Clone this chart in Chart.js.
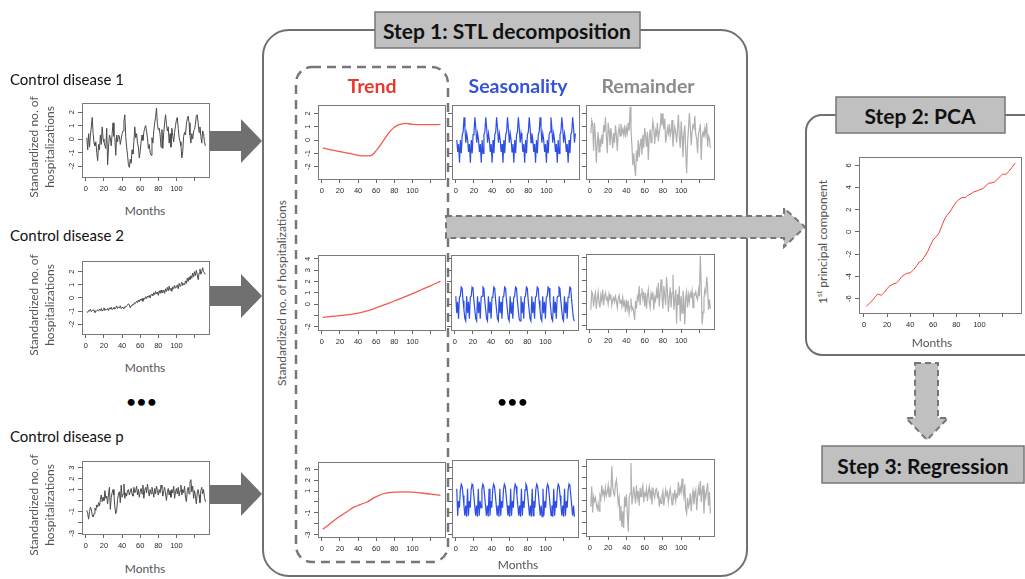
<!DOCTYPE html>
<html><head><meta charset="utf-8">
<script src="https://cdn.jsdelivr.net/npm/chart.js@4.4.0/dist/chart.umd.min.js"></script>
<style>
html,body{margin:0;padding:0;background:#fff;}
#stage{position:relative;width:1025px;height:579px;overflow:hidden;font-family:Lato,"Open Sans",sans-serif;}
#stage svg{position:absolute;left:0;top:0;z-index:0;}
canvas{position:absolute;z-index:1;}
.t{position:absolute;z-index:2;white-space:nowrap;}
.rot{transform:translate(-50%,-50%) rotate(-90deg);text-align:center;color:#555;font-size:12px;line-height:16px;}
.ctr{transform:translate(-50%,-50%);}
.step{font-weight:bold;font-size:21px;color:#111;}
.head{font-weight:bold;font-size:19.5px;}
.months{color:#555;font-size:12px;}
.cd{font-size:15px;color:#111;}
</style></head><body>
<div id="stage">
<svg width="1025" height="579">
  <rect x="263" y="30" width="484" height="546" rx="26" fill="none" stroke="#707070" stroke-width="2"/>
  <rect x="296" y="67" width="152" height="495" rx="16" fill="none" stroke="#777" stroke-width="2.5" stroke-dasharray="9 6"/>
  <rect x="806" y="115" width="260" height="240" rx="16" fill="none" stroke="#707070" stroke-width="2"/>
  <polygon points="210,131 241,131 241,119 262,141 241,163 241,151 210,151" fill="#707070"/>
  <polygon points="210,286 241,286 241,274 262,296 241,318 241,306 210,306" fill="#707070"/>
  <polygon points="210,485 241,485 241,472 262,494 241,516 241,504 210,504" fill="#707070"/>
  <polygon points="446,216 784,216 784,208 805,227 784,247 784,238 446,238" fill="#c0c0c0" stroke="#777" stroke-width="2" stroke-dasharray="6 4"/>
  <polygon points="915,363 938,363 938,418 948,418 927,440 906,418 915,418" fill="#c0c0c0" stroke="#777" stroke-width="2" stroke-dasharray="6 4"/>
  <rect x="375" y="12" width="265" height="36" fill="#c0c0c0" stroke="#777" stroke-width="1.5"/>
  <rect x="836" y="97" width="169" height="36" fill="#c0c0c0" stroke="#777" stroke-width="1.5"/>
  <rect x="822" y="446" width="202" height="37" fill="#c0c0c0" stroke="#777" stroke-width="1.5"/>
</svg>
<div class="t ctr step" style="left:507px;top:30px;">Step 1: STL decomposition</div>
<div class="t ctr step" style="left:920px;top:115px;">Step 2: PCA</div>
<div class="t ctr step" style="left:923px;top:465px;">Step 3: Regression</div>
<div class="t ctr head" style="left:372px;top:85px;color:#e8392e;">Trend</div>
<div class="t ctr head" style="left:518px;top:85px;color:#3653d8;">Seasonality</div>
<div class="t ctr head" style="left:648px;top:85px;color:#8a8a8a;">Remainder</div>
<div class="t cd" style="left:10px;top:70px;">Control disease 1</div>
<div class="t cd" style="left:10px;top:226px;">Control disease 2</div>
<div class="t cd" style="left:10px;top:427px;">Control disease p</div>
<div class="t rot" style="left:42px;top:147px;">Standardized no. of<br>hospitalizations</div>
<div class="t rot" style="left:42px;top:305px;">Standardized no. of<br>hospitalizations</div>
<div class="t rot" style="left:42px;top:505px;">Standardized no. of<br>hospitalizations</div>
<div class="t rot" style="left:282px;top:293px;">Standardized no. of hospitalizations</div>
<div class="t rot" style="left:821px;top:242px;">1<sup style="font-size:8px">st</sup> principal component</div>
<div class="t ctr months" style="left:145px;top:210px;">Months</div>
<div class="t ctr months" style="left:145px;top:367px;">Months</div>
<div class="t ctr months" style="left:145px;top:568px;">Months</div>
<div class="t ctr months" style="left:518px;top:564px;">Months</div>
<div class="t ctr months" style="left:932px;top:342px;">Months</div>
<div class="t ctr" style="left:142px;top:400px;font-size:16px;font-weight:bold;letter-spacing:1px;">•••</div>
<div class="t ctr" style="left:513px;top:400px;font-size:16px;font-weight:bold;letter-spacing:1px;">•••</div>
</div>
<script>
// ---------- data ----------
const months = [1,2,3,4,5,6,7,8,9,10,11,12,13,14,15,16,17,18,19,20,21,22,23,24,25,26,27,28,29,30,31,32,33,34,35,36,37,38,39,40,41,42,43,44,45,46,47,48,49,50,51,52,53,54,55,56,57,58,59,60,61,62,63,64,65,66,67,68,69,70,71,72,73,74,75,76,77,78,79,80,81,82,83,84,85,86,87,88,89,90,91,92,93,94,95,96,97,98,99,100,101,102,103,104,105,106,107,108,109,110,111,112,113,114,115,116,117,118,119,120,121,122,123,124,125,126,127,128,129,130,131,132];

const c1Values = [0.1,-0.8,0.4,-0.6,0.3,0.9,1.6,0.4,-0.3,-0.5,-0.2,-1.0,
 -1.6,-0.4,-0.8,0.3,-0.4,0.9,0.0,-0.2,-0.5,-0.7,0.8,-1.9,
 -0.6,0.3,0.1,-0.5,0.4,1.2,0.2,0.1,-1.2,0.3,-0.2,0.3,
 0.2,-0.4,0.0,0.4,0.6,1.3,1.8,0.2,-0.6,-1.2,-1.9,-2.1,
 -1.5,-1.8,-0.8,-1.1,-0.2,0.9,0.1,0.4,-0.3,-0.6,-1.4,-0.9,
 -0.2,0.3,-0.1,0.5,0.8,1.0,0.6,0.1,-0.7,-0.4,-1.0,-1.2,
 0.1,-0.3,0.6,1.2,1.6,2.3,1.1,0.7,0.8,0.3,-0.6,0.7,
 -0.7,0.5,1.2,1.8,1.1,0.6,0.9,-0.3,0.4,-0.6,0.8,0.2,
 -0.2,0.5,1.0,1.4,1.6,0.8,0.1,-0.2,-0.5,-1.4,-0.9,0.2,
 0.5,0.3,1.1,1.5,1.7,1.2,0.3,-0.3,0.4,0.0,0.6,0.7,
 1.1,1.7,1.8,1.2,0.5,0.9,0.2,-0.3,0.6,0.4,-0.2,-0.5];

const c2Values = [-1.05,-1.1,-0.95,-1.0,-0.85,-1.05,-1.0,-0.9,-0.95,-1.1,-1.05,-0.95,
 -0.9,-1.0,-0.85,-0.95,-0.8,-1.0,-0.9,-0.75,-0.95,-0.85,-0.9,-0.8,
 -0.95,-0.75,-0.85,-0.7,-0.9,-0.8,-0.7,-0.85,-0.75,-0.6,-0.8,-0.7,
 -0.75,-0.6,-0.8,-0.7,-0.75,-0.8,-0.65,-0.7,-0.6,-0.55,-0.45,-0.5,
 -0.75,-0.6,-0.55,-0.45,-0.5,-0.35,-0.4,-0.25,-0.35,-0.15,-0.3,-0.1,
 -0.2,-0.05,-0.25,0.0,-0.1,0.1,-0.05,0.15,0.05,0.2,0.0,0.25,
 0.3,0.15,0.4,0.25,0.5,0.3,0.45,0.2,0.55,0.35,0.6,0.4,
 0.4,0.6,0.35,0.7,0.5,0.8,0.55,0.9,0.6,0.75,0.5,0.85,
 0.7,0.95,0.75,0.8,1.0,0.7,1.1,0.9,1.05,1.2,0.95,1.1,
 1.0,1.3,1.1,1.5,1.25,1.6,1.4,1.7,1.5,1.9,1.6,2.0,
 1.7,2.1,1.8,1.4,1.9,2.2,1.8,2.0,2.3,2.0,1.9,1.8];

const cpValues = [-0.9,-1.2,-1.7,-1.0,-0.6,-0.8,-1.3,-1.5,-1.2,-0.7,-0.9,-0.4,
 -0.6,-0.2,-0.5,0.1,0.5,-0.1,0.3,0.0,0.9,0.2,0.4,-0.3,
 0.6,1.2,-0.8,0.3,0.7,1.0,0.5,-0.6,-1.2,-0.9,0.1,0.6,
 0.8,-0.2,1.4,0.3,0.6,1.5,0.2,0.7,0.4,0.9,1.0,0.5,
 0.8,1.1,0.6,0.4,1.2,0.7,0.9,1.3,0.5,1.0,0.3,0.8,
 1.1,0.6,1.4,0.2,0.9,1.2,0.7,1.5,0.9,0.4,1.0,0.6,
 1.2,0.8,0.3,1.1,0.6,1.3,0.9,0.5,1.0,0.7,1.4,1.1,
 0.4,0.9,1.2,0.6,0.0,0.8,1.1,0.5,0.9,0.3,1.0,0.7,
 1.3,0.2,0.8,1.1,0.6,1.2,0.4,0.9,1.4,0.5,1.0,0.7,
 1.3,0.3,-0.1,0.9,1.2,0.6,1.7,1.9,0.8,1.3,0.2,0.9,
 0.4,-0.3,0.7,1.0,0.5,-0.2,0.9,1.2,0.6,1.0,0.3,-0.1];

const trend1Months = [1,10,20,30,40,46,52,56,60,64,68,72,76,80,84,88,92,96,100,110,120,131];
const trend1Values = [-0.6,-0.75,-0.88,-1.0,-1.15,-1.2,-1.2,-1.1,-0.8,-0.45,-0.05,0.35,0.7,0.95,1.12,1.2,1.25,1.22,1.18,1.15,1.15,1.17];
const trend2Months = [1,10,20,30,40,50,60,70,80,90,100,110,120,131];
const trend2Values = [-1.18,-1.1,-1.02,-0.93,-0.8,-0.6,-0.33,-0.03,0.27,0.6,0.92,1.27,1.62,2.03];
const trendpMonths = [1,8,15,22,30,36,42,50,56,62,68,74,80,90,100,110,120,131];
const trendpValues = [-2.5,-2.05,-1.6,-1.2,-0.75,-0.45,-0.25,0.0,0.3,0.55,0.75,0.85,0.9,0.92,0.9,0.82,0.72,0.6];

const seas1Values = [0.0,-0.9,-0.3,-1.7,0.0,-1.0,0.4,0.6,1.7,0.9,-0.2,0.5,
 0.0,-0.9,-0.3,-1.7,0.0,-1.0,0.4,0.6,1.7,0.9,-0.2,0.5,
 0.0,-0.9,-0.3,-1.7,0.0,-1.0,0.4,0.6,1.7,0.9,-0.2,0.5,
 0.0,-0.9,-0.3,-1.7,0.0,-1.0,0.4,0.6,1.7,0.9,-0.2,0.5,
 0.0,-0.9,-0.3,-1.7,0.0,-1.0,0.4,0.6,1.7,0.9,-0.2,0.5,
 0.0,-0.9,-0.3,-1.7,0.0,-1.0,0.4,0.6,1.7,0.9,-0.2,0.5,
 0.0,-0.9,-0.3,-1.7,0.0,-1.0,0.4,0.6,1.7,0.9,-0.2,0.5,
 0.0,-0.9,-0.3,-1.7,0.0,-1.0,0.4,0.6,1.7,0.9,-0.2,0.5,
 0.0,-0.9,-0.3,-1.7,0.0,-1.0,0.4,0.6,1.7,0.9,-0.2,0.5,
 0.0,-0.9,-0.3,-1.7,0.0,-1.0,0.4,0.6,1.7,0.9,-0.2,0.5,
 0.0,-0.9,-0.3,-1.7,0.0,-1.0,0.4,0.6,1.7,0.9,-0.2,0.5];

const seas2Values = [0.7,-0.8,0.2,-1.3,0.6,0.7,1.5,1.4,0.3,-0.5,-1.3,-1.5,
 0.7,-0.8,0.2,-1.3,0.6,0.7,1.5,1.4,0.3,-0.5,-1.3,-1.5,
 0.7,-0.8,0.2,-1.3,0.6,0.7,1.5,1.4,0.3,-0.5,-1.3,-1.5,
 0.7,-0.8,0.2,-1.3,0.6,0.7,1.5,1.4,0.3,-0.5,-1.3,-1.5,
 0.7,-0.8,0.2,-1.3,0.6,0.7,1.5,1.4,0.3,-0.5,-1.3,-1.5,
 0.7,-0.8,0.2,-1.3,0.6,0.7,1.5,1.4,0.3,-0.5,-1.3,-1.5,
 0.7,-0.8,0.2,-1.3,0.6,0.7,1.5,1.4,0.3,-0.5,-1.3,-1.5,
 0.7,-0.8,0.2,-1.3,0.6,0.7,1.5,1.4,0.3,-0.5,-1.3,-1.5,
 0.7,-0.8,0.2,-1.3,0.6,0.7,1.5,1.4,0.3,-0.5,-1.3,-1.5,
 0.7,-0.8,0.2,-1.3,0.6,0.7,1.5,1.4,0.3,-0.5,-1.3,-1.5,
 0.7,-0.8,0.2,-1.3,0.6,0.7,1.5,1.4,0.3,-0.5,-1.3,-1.5];

const seaspValues = [1.1,-1.3,0.0,-0.6,1.0,1.5,1.3,0.5,-0.4,-1.3,-0.4,-1.4,
 1.1,-1.3,0.0,-0.6,1.0,1.5,1.3,0.5,-0.4,-1.3,-0.4,-1.4,
 1.1,-1.3,0.0,-0.6,1.0,1.5,1.3,0.5,-0.4,-1.3,-0.4,-1.4,
 1.1,-1.3,0.0,-0.6,1.0,1.5,1.3,0.5,-0.4,-1.3,-0.4,-1.4,
 1.1,-1.3,0.0,-0.6,1.0,1.5,1.3,0.5,-0.4,-1.3,-0.4,-1.4,
 1.1,-1.3,0.0,-0.6,1.0,1.5,1.3,0.5,-0.4,-1.3,-0.4,-1.4,
 1.1,-1.3,0.0,-0.6,1.0,1.5,1.3,0.5,-0.4,-1.3,-0.4,-1.4,
 1.1,-1.3,0.0,-0.6,1.0,1.5,1.3,0.5,-0.4,-1.3,-0.4,-1.4,
 1.1,-1.3,0.0,-0.6,1.0,1.5,1.3,0.5,-0.4,-1.3,-0.4,-1.4,
 1.1,-1.3,0.0,-0.6,1.0,1.5,1.3,0.5,-0.4,-1.3,-0.4,-1.4,
 1.1,-1.3,0.0,-0.6,1.0,1.5,1.3,0.5,-0.4,-1.3,-0.4,-1.4];

const rem1Values = [0.5,1.5,1.2,-0.8,1.3,0.2,-1.7,-0.2,0.6,-0.9,0.1,-0.5,
 0.4,-0.3,1.1,0.6,1.7,0.3,-1.0,1.3,0.7,-0.4,0.9,0.2,
 -0.6,0.5,-0.2,1.1,0.4,-0.8,0.6,1.0,0.3,1.2,0.5,0.8,
 0.4,1.1,0.2,0.9,0.5,1.3,0.7,2.5,0.9,-0.4,-1.9,-1.0,
 -2.0,-2.7,-0.8,-1.6,0.0,-1.3,-0.4,0.1,-1.1,0.4,-0.6,0.9,
 0.3,-0.5,0.6,-1.5,0.2,0.8,-0.2,0.5,1.4,0.9,-0.3,0.7,
 0.4,1.3,-0.1,0.6,0.9,2.0,1.1,2.0,0.8,1.6,-0.2,0.3,
 0.9,0.5,1.2,0.3,0.7,1.5,-0.5,0.4,1.0,0.6,-0.2,0.8,
 1.9,0.2,-0.6,1.4,0.3,-1.3,0.5,1.1,-0.9,-2.5,-0.3,0.8,
 2.0,1.0,-0.4,0.6,1.1,0.9,1.8,0.4,0.1,-1.0,0.5,0.7,
 1.2,-1.5,0.3,0.6,0.2,0.9,0.4,1.3,-0.5,0.3,0.1,-0.6];

const rem2Values = [-0.6,1.0,0.8,-0.3,0.5,0.9,-0.5,0.3,1.0,0.1,-0.4,0.7,
 0.2,1.2,-0.2,0.6,0.9,0.3,0.5,-0.1,0.8,0.4,0.6,-0.2,
 0.3,0.5,0.1,0.6,0.2,-0.4,0.4,0.7,0.0,0.3,-0.3,0.5,
 -0.2,0.1,-0.8,0.3,-0.5,0.2,-0.9,-0.3,0.4,-0.6,-0.4,-0.8,
 -1.5,0.2,-0.5,0.6,0.3,1.5,-0.2,0.8,1.3,0.4,1.0,-0.3,
 0.9,-0.5,0.6,1.2,0.1,-0.4,0.8,0.3,1.0,-0.6,0.5,0.2,
 1.1,0.4,1.8,-0.3,0.9,2.1,0.6,-0.5,1.5,0.7,-0.2,2.3,
 1.0,-0.8,0.5,1.4,-0.4,0.9,2.5,-0.6,0.3,1.2,-1.8,0.8,
 -0.2,1.5,-1.6,0.6,-0.9,1.1,0.3,-1.9,0.5,1.0,-0.4,0.7,
 0.1,0.9,0.6,1.1,-0.4,0.8,0.7,1.0,0.5,0.3,1.2,0.6,
 4.2,1.5,-1.9,-0.8,0.4,1.2,0.9,2.3,1.4,-0.6,0.3,-0.5];

const rempValues = [-0.6,1.2,-1.1,0.3,-0.1,0.2,-0.4,-0.8,-0.3,-1.0,0.4,0.1,
 1.3,0.5,0.8,0.2,1.1,0.4,0.7,1.3,0.3,0.9,0.6,3.0,
 1.2,0.6,0.4,1.4,1.8,0.9,-0.3,0.2,-1.8,-0.5,-2.4,-1.0,
 -2.5,0.3,-0.6,0.5,-1.2,-2.8,0.1,0.6,3.3,-0.4,0.2,1.2,
 0.5,-0.3,1.3,0.2,0.8,-0.5,1.1,0.3,0.9,1.3,-0.2,0.6,
 0.4,1.0,-0.1,0.7,1.2,0.3,0.8,-0.4,1.1,0.5,0.2,0.9,
 1.0,0.3,0.6,-0.6,0.1,-0.3,0.4,0.8,-0.5,0.2,0.9,0.4,
 0.7,-0.2,0.5,1.0,0.3,-0.4,0.6,0.2,0.9,-0.1,0.5,0.3,
 1.6,0.4,1.1,0.7,1.9,0.9,0.3,1.4,-0.8,-1.2,0.2,-0.6,
 -0.3,0.6,-1.0,0.2,0.8,-0.4,0.5,0.9,-0.9,0.3,1.1,0.4,
 1.7,-0.2,0.8,1.3,-1.2,0.6,0.2,0.9,1.5,-0.5,0.7,-1.2];

const pcaMonths = [2,5,8,10,12,15,18,20,22,25,28,30,33,36,38,40,43,46,48,50,52,55,58,60,62,65,68,70,72,75,78,80,82,85,88,90,92,95,98,100,103,106,108,110,113,116,118,120,123,126,128,131];
const pcaValues = [-6.7,-6.4,-6.1,-5.8,-5.6,-5.7,-5.4,-5.1,-4.9,-4.7,-4.6,-4.4,-4.0,-3.8,-3.7,-3.7,-3.4,-3.0,-2.7,-2.6,-2.3,-1.8,-1.1,-0.7,-0.5,-0.1,0.7,1.2,1.5,1.9,2.4,2.7,2.9,3.1,3.1,3.3,3.4,3.6,3.7,3.8,3.9,4.2,4.4,4.4,4.5,4.8,5.0,5.2,5.2,5.5,5.8,6.2];

// tick values and labels
const xTicks = [0,20,40,60,80,100,120];
const xTickLabels = [0,20,40,60,80,100];
const yTicks2 = [-2,-1,0,1,2];
const yTicksRow2 = [-2,-1,0,1,2,3,4];
const yLabelsRow2 = [-2,0,1,2,3,4];
const yTicks3 = [-3,-2,-1,0,1,2,3];
const yLabels3 = [-3,-1,1,2,3];
const yTicksPca = [-6,-4,-2,0,2,4,6];

// ---------- drawing ----------
const PADL = 26, PADT = 10, PADR = 10, XH = 24;
const boxPlugin = {
  id: 'rbox',
  afterDraw(chart) {
    const a = chart.chartArea, ctx = chart.ctx;
    ctx.save();
    ctx.strokeStyle = '#7a7a7a';
    ctx.lineWidth = 1;
    ctx.strokeRect(Math.round(a.left) + 0.5, Math.round(a.top) + 0.5, Math.round(a.right - a.left), Math.round(a.bottom - a.top));
    ctx.restore();
  }
};
const tickFont = {family: '"Liberation Sans", Arial, sans-serif', size: 7.5};

function makeChart(s) {
  const [l, t, r, b] = s.box;
  const w = r - l + PADL + PADR, h = b - t + PADT + XH;
  const cv = document.createElement('canvas');
  cv.width = w; cv.height = h;
  cv.style.left = (l - PADL) + 'px';
  cv.style.top = (t - PADT) + 'px';
  cv.style.width = w + 'px'; cv.style.height = h + 'px';
  document.getElementById('stage').appendChild(cv);
  new Chart(cv, {
    type: 'line',
    data: {datasets: [{
      data: s.x.map((m, i) => ({x: m, y: s.y[i]})),
      borderColor: s.color, borderWidth: s.lw, pointRadius: 0,
      cubicInterpolationMode: s.smooth ? 'monotone' : 'default', tension: 0
    }]},
    options: {
      responsive: false, animation: false, events: [],
      layout: {padding: {top: PADT, right: PADR, left: 0, bottom: 0}},
      plugins: {legend: {display: false}, tooltip: {enabled: false}},
      scales: {
        x: {
          type: 'linear', min: -4.3, max: 136,
          afterBuildTicks: sc => { sc.ticks = xTicks.map(v => ({value: v})); },
          afterFit: sc => { sc.height = XH; },
          ticks: {autoSkip: false, maxRotation: 0, minRotation: 0, padding: 3, color: '#2a2a2a', font: tickFont,
                  callback: v => xTickLabels.includes(v) ? String(v) : ''},
          grid: {drawOnChartArea: false, drawTicks: true, tickLength: 4, color: '#666'},
          border: {display: false}
        },
        y: {
          type: 'linear', min: s.yr[0], max: s.yr[1],
          afterBuildTicks: sc => { sc.ticks = s.yTicks.map(v => ({value: v})); },
          afterFit: sc => { sc.width = PADL; },
          ticks: {autoSkip: false, minRotation: 90, maxRotation: 90, crossAlign: 'center', padding: 3, color: '#2a2a2a', font: tickFont,
                  callback: v => s.yLabels.includes(v) ? String(v) : ''},
          grid: {drawOnChartArea: false, drawTicks: true, tickLength: 4, color: '#666'},
          border: {display: false}
        }
      }
    },
    plugins: [boxPlugin]
  });
}

const GREY = '#4a4a4a', RED = '#f25a50', BLUE = '#2d4fe6', LGREY = '#b0b0b0';
const specs = [
  {box: [82,103,209,177], yr: [-2.81,2.67], yTicks: yTicks2, yLabels: yTicks2, x: months, y: c1Values, color: GREY, lw: 1},
  {box: [82,261,209,334], yr: [-2.74,2.81], yTicks: yTicks2, yLabels: yTicks2, x: months, y: c2Values, color: GREY, lw: 1},
  {box: [82,461,209,534], yr: [-3.05,3.6], yTicks: yTicks3, yLabels: yLabels3, x: months, y: cpValues, color: GREY, lw: 1},
  {box: [318,105,445,179], yr: [-2.93,2.63], yTicks: yTicks2, yLabels: yTicks2, x: trend1Months, y: trend1Values, color: RED, lw: 1.3, smooth: true},
  {box: [452,105,579,179], yr: [-2.93,2.63], yTicks: yTicks2, yLabels: [], x: months, y: seas1Values, color: BLUE, lw: 1.2},
  {box: [586,105,714,179], yr: [-2.93,2.63], yTicks: yTicks2, yLabels: [], x: months, y: rem1Values, color: LGREY, lw: 1.2},
  {box: [318,255,445,330], yr: [-2.3,4.35], yTicks: yTicksRow2, yLabels: yLabelsRow2, x: trend2Months, y: trend2Values, color: RED, lw: 1.3, smooth: true},
  {box: [451,255,578,330], yr: [-2.3,4.35], yTicks: yTicksRow2, yLabels: [], x: months, y: seas2Values, color: BLUE, lw: 1.2},
  {box: [586,254,714,329], yr: [-2.3,4.35], yTicks: yTicksRow2, yLabels: [], x: months, y: rem2Values, color: LGREY, lw: 1.2},
  {box: [318,462,445,537], yr: [-3.2,3.65], yTicks: yTicks3, yLabels: yLabels3, x: trendpMonths, y: trendpValues, color: RED, lw: 1.3, smooth: true},
  {box: [452,460,578,537], yr: [-3.2,3.65], yTicks: yTicks3, yLabels: [], x: months, y: seaspValues, color: BLUE, lw: 1.2},
  {box: [586,459,714,536], yr: [-3.2,3.65], yTicks: yTicks3, yLabels: [], x: months, y: rempValues, color: LGREY, lw: 1.2},
  {box: [859,157,1021,313], yr: [-7.3,6.75], yTicks: yTicksPca, yLabels: yTicksPca, x: pcaMonths, y: pcaValues, color: '#f04038', lw: 1}
];
specs.forEach(makeChart);
</script>
</body></html>
